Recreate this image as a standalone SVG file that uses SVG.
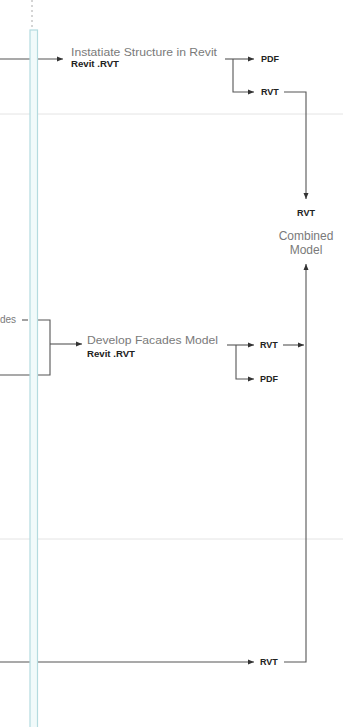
<svg xmlns="http://www.w3.org/2000/svg" width="343" height="727" viewBox="0 0 343 727">
<style>
.ln{fill:none;stroke:#555;stroke-width:1.1}
.sep{stroke:#e4e4e4;stroke-width:1}
.t{font-family:"Liberation Sans",Arial,sans-serif;font-size:11px;fill:#7a7a7a}
.c{font-family:"Liberation Sans",Arial,sans-serif;font-size:12px;fill:#7a7a7a}
.b{font-family:"Liberation Sans",Arial,sans-serif;font-size:9px;font-weight:bold;fill:#222}
</style>
<defs>
<marker id="ah" viewBox="0 0 6 6" refX="6" refY="3" markerWidth="6" markerHeight="6" markerUnits="userSpaceOnUse" orient="auto">
<path d="M0,0.5 L6,3 L0,5.5 Z" fill="#333"/>
</marker>
</defs>
<rect width="343" height="727" fill="#fff"/>
<line class="sep" x1="0" y1="114" x2="343" y2="114"/>
<line class="sep" x1="0" y1="539" x2="343" y2="539"/>
<g id="connectors">
<line class="ln" x1="0" y1="59" x2="63" y2="59" marker-end="url(#ah)"/>
<path class="ln" d="M225,59 H254" marker-end="url(#ah)"/>
<path class="ln" d="M233,59 V92 H254" marker-end="url(#ah)"/>
<path class="ln" d="M284,92 H306 V199" marker-end="url(#ah)"/>
<line class="ln" x1="22" y1="320" x2="28" y2="320"/>
<path class="ln" d="M38,320 H50 V375 H0"/>
<path class="ln" d="M50,344 H82" marker-end="url(#ah)"/>
<path class="ln" d="M227,345 H254" marker-end="url(#ah)"/>
<path class="ln" d="M236,345 V379 H254" marker-end="url(#ah)"/>
<path class="ln" d="M283,345 H304" marker-end="url(#ah)"/>
<line class="ln" x1="0" y1="662" x2="254" y2="662" marker-end="url(#ah)"/>
<path class="ln" d="M284,662 H306 V264" marker-end="url(#ah)"/>
</g>
<g id="lane">
<line x1="32" y1="0" x2="32" y2="30" stroke="#aaa" stroke-width="1" stroke-dasharray="2,3"/>
<rect x="30" y="30" width="7.5" height="700" fill="#f1fafa" stroke="#b4dbdf" stroke-width="1.2"/>
</g>
<g id="facades-left">
<text class="t" x="16" y="323" text-anchor="end" style="font-size:10px">des</text>
</g>
<g id="instantiate-structure">
<text class="t" x="71" y="56" textLength="146" lengthAdjust="spacingAndGlyphs">Instatiate Structure in Revit</text>
<text class="b" x="71" y="67" textLength="48" lengthAdjust="spacingAndGlyphs">Revit .RVT</text>
</g>
<g id="pdf-1"><text class="b" x="261" y="62">PDF</text></g>
<g id="rvt-1"><text class="b" x="261" y="95">RVT</text></g>
<g id="combined-model">
<text class="b" x="306" y="216" text-anchor="middle">RVT</text>
<text class="c" x="306" y="240" text-anchor="middle">Combined</text>
<text class="c" x="306" y="254" text-anchor="middle">Model</text>
</g>
<g id="develop-facades">
<text class="t" x="87" y="344" textLength="131" lengthAdjust="spacingAndGlyphs">Develop Facades Model</text>
<text class="b" x="87" y="357" textLength="48" lengthAdjust="spacingAndGlyphs">Revit .RVT</text>
</g>
<g id="rvt-2"><text class="b" x="260" y="348">RVT</text></g>
<g id="pdf-2"><text class="b" x="260" y="382">PDF</text></g>
<g id="rvt-3"><text class="b" x="260" y="665">RVT</text></g>
</svg>
